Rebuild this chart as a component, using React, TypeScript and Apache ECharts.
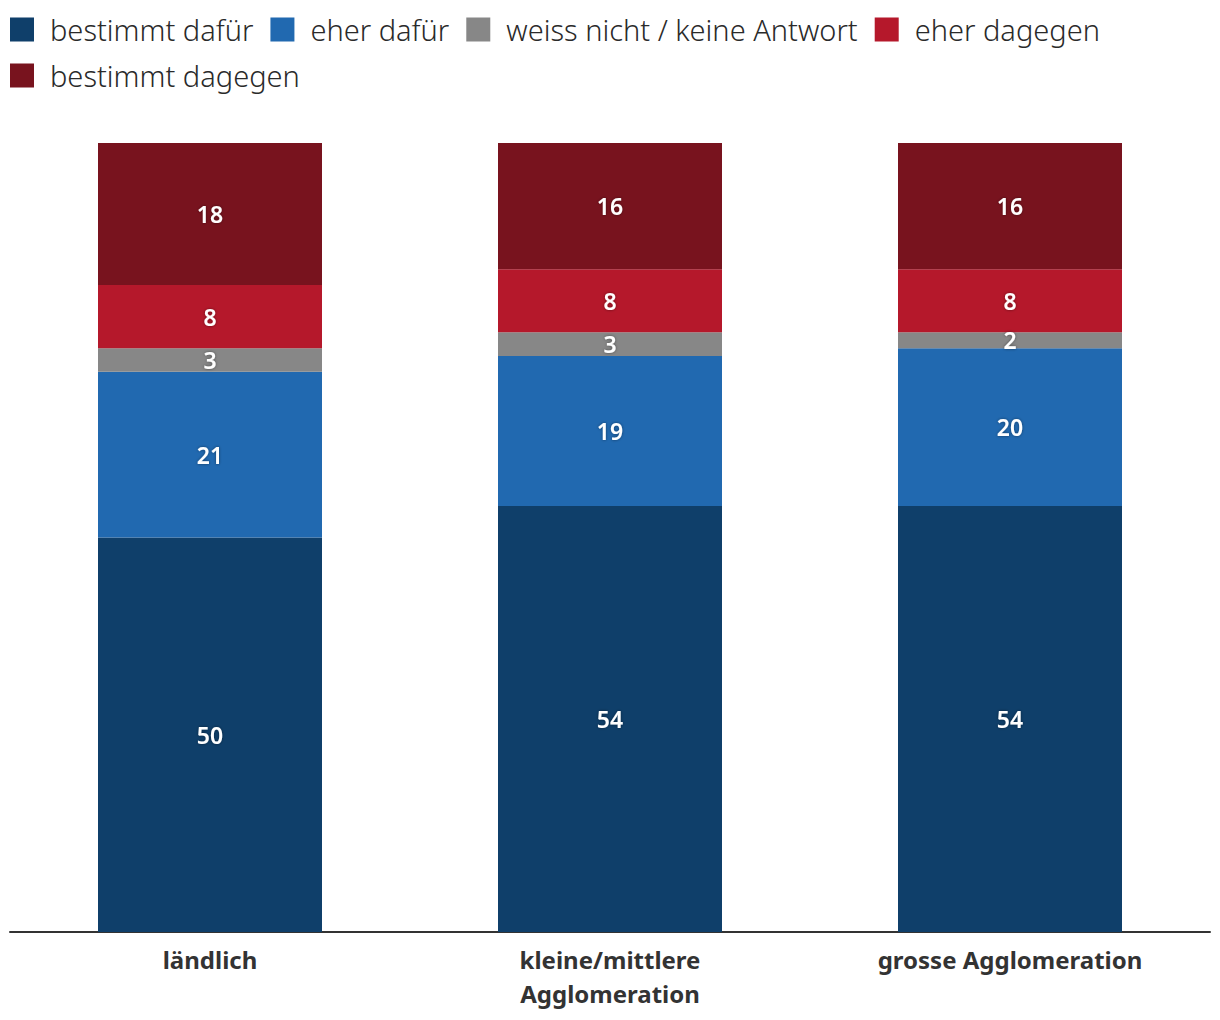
import React, { useEffect, useRef } from "react";
import * as echarts from "echarts";

const categories = ["ländlich", "kleine/mittlere\nAgglomeration", "grosse Agglomeration"];
const seriesNames = [
  "bestimmt dafür",
  "eher dafür",
  "weiss nicht / keine Antwort",
  "eher dagegen",
  "bestimmt dagegen",
];
const bestimmtDafuer = [50, 54, 54];
const eherDafuer = [21, 19, 20];
const weissNicht = [3, 3, 2];
const eherDagegen = [8, 8, 8];
const bestimmtDagegen = [18, 16, 16];
const colors = ["#0f3f6a", "#2169b0", "#878787", "#b5182b", "#78131e"];

const FONT = "'Noto Sans', 'DejaVu Sans', sans-serif";

export default function App() {
  const ref = useRef<HTMLDivElement>(null);
  useEffect(() => {
    if (!ref.current) return;
    const chart = echarts.init(ref.current, undefined, { renderer: "svg" });
    const values = [bestimmtDafuer, eherDafuer, weissNicht, eherDagegen, bestimmtDagegen];
    chart.setOption({
      animation: false,
      color: colors,
      textStyle: { fontFamily: FONT },
      legend: {
        left: 10,
        top: 15,
        width: 1200,
        padding: 0,
        itemWidth: 35,
        itemHeight: 24,
        itemGap: 17,
        icon: "path://M0,0h24v24h-24zM35,0h0.01",
        textStyle: { fontSize: 29, color: "#2a2a2a", fontFamily: FONT, fontWeight: 300 },
        data: seriesNames,
      },
      grid: { left: 10, right: 10, top: 143, bottom: 88, containLabel: false },
      xAxis: {
        type: "category",
        data: categories,
        axisLine: { show: true, lineStyle: { color: "#333", width: 2 } },
        axisTick: { show: false },
        axisLabel: {
          margin: 10,
          fontSize: 24,
          fontWeight: "bold",
          color: "#333",
          lineHeight: 34,
          fontFamily: FONT,
        },
      },
      yAxis: { type: "value", min: 0, max: 100, show: false, splitLine: { show: false } },
      series: values.map((v, i) => ({
        name: seriesNames[i],
        type: "bar",
        stack: "total",
        barWidth: 224,
        data: v,
        itemStyle: { color: colors[i] },
        label: {
          show: true,
          position: "inside",
          color: "#fff",
          fontSize: 23,
          fontWeight: 600,
          fontFamily: FONT,
          textShadowColor: "rgba(0,0,0,0.45)",
          textShadowBlur: 3,
        },
      })),
    });
    return () => chart.dispose();
  }, []);
  return (
    <div
      ref={ref}
      style={{ position: "fixed", left: 0, top: 0, width: 1220, height: 1020, background: "#fff" }}
    />
  );
}
